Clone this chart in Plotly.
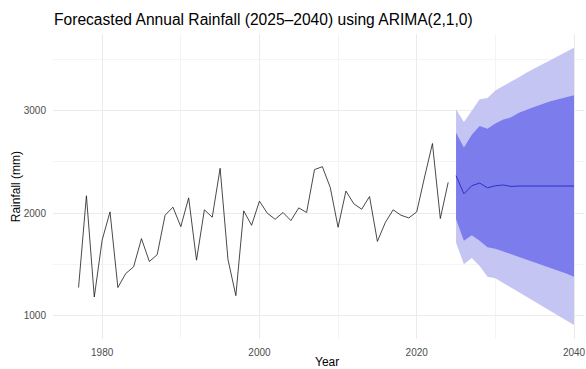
import plotly.graph_objects as go

# Observed annual rainfall (mm)
years = list(range(1977, 2025))
rainfall = [1275, 2170, 1183, 1738, 2013, 1275, 1412, 1477, 1752, 1529,
            1595, 1980, 2059, 1869, 2150, 1542, 2033, 1961, 2438, 1549,
            1196, 2023, 1882, 2118, 2000, 1941, 2007, 1928, 2052, 2007,
            2425, 2454, 2252, 1863, 2216, 2092, 2039, 2163, 1725, 1908,
            2033, 1980, 1954, 2013, 2353, 2680, 1948, 2301]

# ARIMA(2,1,0) forecast with prediction intervals
fc_years = list(range(2025, 2041))
fc_mean = [2366, 2189, 2268, 2294, 2248, 2268, 2275, 2261, 2265, 2265,
           2265, 2265, 2265, 2265, 2265, 2265]
lo80 = [1941, 1732, 1784, 1732, 1667, 1654, 1627, 1601, 1575, 1549,
        1523, 1497, 1471, 1444, 1412, 1379]
hi80 = [2784, 2641, 2765, 2850, 2824, 2876, 2915, 2935, 2980, 3013,
        3039, 3065, 3092, 3111, 3131, 3150]
lo95 = [1712, 1503, 1562, 1484, 1379, 1366, 1320, 1275, 1229, 1183,
        1137, 1091, 1046, 1000, 954, 909]
hi95 = [3013, 2889, 3000, 3111, 3124, 3196, 3242, 3281, 3327, 3373,
        3412, 3451, 3490, 3529, 3569, 3614]

LIGHT = "rgb(197,197,244)"
DARK = "rgb(124,124,237)"

fig = go.Figure()

# 95% band
fig.add_trace(go.Scatter(x=fc_years, y=hi95, mode="lines", line=dict(width=0),
                         hoverinfo="skip", showlegend=False))
fig.add_trace(go.Scatter(x=fc_years, y=lo95, mode="lines", line=dict(width=0),
                         fill="tonexty", fillcolor=LIGHT,
                         hoverinfo="skip", showlegend=False))
# 80% band
fig.add_trace(go.Scatter(x=fc_years, y=hi80, mode="lines", line=dict(width=0),
                         hoverinfo="skip", showlegend=False))
fig.add_trace(go.Scatter(x=fc_years, y=lo80, mode="lines", line=dict(width=0),
                         fill="tonexty", fillcolor=DARK,
                         hoverinfo="skip", showlegend=False))
# point forecast
fig.add_trace(go.Scatter(x=fc_years, y=fc_mean, mode="lines",
                         line=dict(color="rgb(48,48,200)", width=1),
                         showlegend=False))
# observed series
fig.add_trace(go.Scatter(x=years, y=rainfall, mode="lines",
                         line=dict(color="#1a1a1a", width=0.8),
                         showlegend=False))

grid_major = "#ebebeb"
grid_minor = "#f4f4f4"

fig.update_layout(
    width=586, height=369,
    margin=dict(l=53, r=0, t=34, b=30),
    paper_bgcolor="white", plot_bgcolor="white",
    font=dict(family="Liberation Sans, Arial, sans-serif"),
    title=dict(text="Forecasted Annual Rainfall (2025–2040) using ARIMA(2,1,0)",
               x=54 / 586, xanchor="left", y=1 - 20 / 369, yanchor="middle",
               font=dict(size=15.6, color="black")),
    xaxis=dict(range=[1973.75, 2041.27], tick0=1980, dtick=20,
               showgrid=True, gridcolor=grid_major, gridwidth=1,
               minor=dict(dtick=10, tick0=1970, showgrid=True,
                          gridcolor=grid_minor, gridwidth=1),
               zeroline=False, showline=False, ticks="",
               ticklabeloverflow="allow",
               tickfont=dict(size=10, color="#4d4d4d"), ticklabelstandoff=6),
    yaxis=dict(range=[773, 3748], tick0=1000, dtick=1000,
               showgrid=True, gridcolor=grid_major, gridwidth=1,
               minor=dict(dtick=500, tick0=500, showgrid=True,
                          gridcolor=grid_minor, gridwidth=1),
               zeroline=False, showline=False, ticks="",
               tickfont=dict(size=10, color="#4d4d4d"), ticklabelstandoff=6),
    annotations=[
        # axis titles, positioned relative to the plotting area
        dict(text="Year", x=0.516, y=-0.077, xref="paper", yref="paper",
             xanchor="center", yanchor="middle", showarrow=False,
             font=dict(size=12, color="black")),
        dict(text="Rainfall (mm)", x=-0.0694, y=0.498,
             xref="paper", yref="paper", xanchor="center", yanchor="middle",
             textangle=-90, showarrow=False,
             font=dict(size=12, color="black")),
    ],
)

fig.write_html("out.html")
